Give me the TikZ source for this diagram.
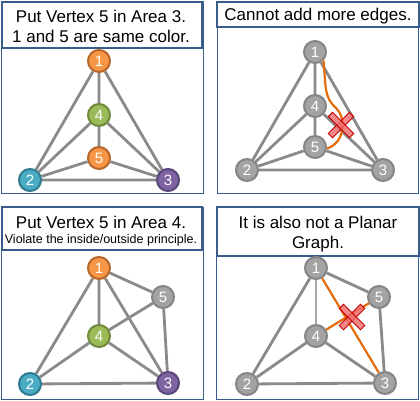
\documentclass[tikz,border=0pt]{standalone}
\usepackage{fontspec}
\setmainfont{Liberation Sans}
\pgfdeclarelayer{edgelayer}
\pgfsetlayers{edgelayer,main}
\definecolor{frameblue}{HTML}{385D8A}
\definecolor{edgegray}{HTML}{8A8A8A}
\definecolor{lightedge}{HTML}{A8A8A8}
\definecolor{orF}{HTML}{F79646}\definecolor{orD}{HTML}{B6662A}
\definecolor{grF}{HTML}{9BBB59}\definecolor{grD}{HTML}{6E8A3A}
\definecolor{tlF}{HTML}{4BACC6}\definecolor{tlD}{HTML}{2E7A8E}
\definecolor{puF}{HTML}{8064A2}\definecolor{puD}{HTML}{594577}
\definecolor{gyF}{HTML}{A3A3A3}\definecolor{gyD}{HTML}{858585}
\definecolor{oline}{HTML}{E46C0A}
\definecolor{xfill}{HTML}{F26B6B}\definecolor{xdraw}{HTML}{C00000}
\tikzset{
  vtx/.style={circle, minimum size=22pt, inner sep=0pt, line width=2pt, text=white,
    font=\fontsize{15}{15}\selectfont},
  vor/.style={vtx, fill=orF, draw=orD},
  vgr/.style={vtx, fill=grF, draw=grD},
  vtl/.style={vtx, fill=tlF, draw=tlD},
  vpu/.style={vtx, fill=puF, draw=puD},
  vgy/.style={vtx, fill=gyF, draw=gyD},
  gedge/.style={line width=2.8pt, draw=edgegray},
  ledge/.style={line width=2.8pt, draw=lightedge},
  oedge/.style={line width=2.2pt, draw=oline},
  thinframe/.style={draw=frameblue, line width=1pt},
  titleframe/.style={draw=frameblue, line width=2pt},
  ttl/.style={anchor=base, inner sep=0pt, font=\fontsize{17}{20}\selectfont},
  sttl/.style={anchor=base, inner sep=0pt, font=\fontsize{12.5}{14}\selectfont},
  xbar/.style={rectangle, minimum width=30pt, minimum height=6pt, inner sep=0pt,
    fill=xfill, fill opacity=0.8, draw=xdraw, draw opacity=1, line width=1pt}
}
\begin{document}
\begin{tikzpicture}[x=1pt,y=-1pt]
\begin{pgfonlayer}{edgelayer}
\fill[white] (0,0) rectangle (420,400);
\end{pgfonlayer}
\useasboundingbox (0,0) rectangle (420,400);

% ---------- frames ----------
\draw[thinframe] (1.5,1.5) rectangle (203,193.5);
\draw[titleframe] (1.5,1.5) rectangle (202,48);
\draw[thinframe] (217,1.5) rectangle (418.5,193.5);
\draw[titleframe] (217,1.5) rectangle (418.5,27);
\draw[thinframe] (1.5,207) rectangle (203,399);
\draw[titleframe] (1.5,207) rectangle (202,250);
\draw[thinframe] (216.5,207) rectangle (418.5,399);
\draw[titleframe] (216.5,207) rectangle (418.5,256);

% ---------- titles ----------
\node[ttl] (t1a) at (101,22) {Put Vertex 5 in Area 3.};
\node[ttl] (t1b) at (101,42) {1 and 5 are same color.};
\node[ttl] (t2a) at (318,20) {Cannot add more edges.};
\node[ttl] (t3a) at (101,228) {Put Vertex 5 in Area 4.};
\node[sttl] (t3b) at (101,243) {Violate the inside/outside principle.};
\node[ttl] (t4a) at (318,228) {It is also not a Planar};
\node[ttl] (t4b) at (318,248) {Graph.};

% ---------- panel 1 ----------
\node[vor] (a1) at (99,61) {1};
\node[vgr] (a4) at (99,115) {4};
\node[vor] (a5) at (99,158) {5};
\node[vtl] (a2) at (30,180) {2};
\node[vpu] (a3) at (168,180) {3};
\begin{pgfonlayer}{edgelayer}
\draw[gedge] (a1)--(a2) (a1)--(a4) (a1)--(a3) (a4)--(a2) (a4)--(a5) (a4)--(a3)
  (a5)--(a2) (a5)--(a3) (a2)--(a3);
\end{pgfonlayer}

% ---------- panel 2 ----------
\node[vgy] (b1) at (315,52) {1};
\node[vgy] (b4) at (315,106) {4};
\node[vgy] (b5) at (315,147) {5};
\node[vgy] (b2) at (247,170) {2};
\node[vgy] (b3) at (383,170) {3};
\begin{pgfonlayer}{edgelayer}
\draw[gedge] (b1)--(b2) (b1)--(b4) (b1)--(b3) (b4)--(b2) (b4)--(b5) (b4)--(b3)
  (b5)--(b2) (b5)--(b3) (b2)--(b3);
\end{pgfonlayer}
\draw[oedge] (b1.-45) .. controls (326,88) and (324,97) .. (336,108)
  .. controls (346,117) and (346,142) .. (b5.-8);
\node[xbar, rotate=45] (bx1) at (341,125) {};
\node[xbar, rotate=-45] (bx2) at (341,125) {};

% ---------- panel 3 ----------
\node[vor] (c1) at (99,268) {1};
\node[vgy] (c5) at (163,297) {5};
\node[vgr] (c4) at (99,336) {4};
\node[vtl] (c2) at (30,384) {2};
\node[vpu] (c3) at (168,383) {3};
\begin{pgfonlayer}{edgelayer}
\draw[gedge] (c1)--(c2) (c1)--(c4) (c1)--(c3) (c1)--(c5) (c5)--(c4) (c5)--(c3)
  (c4)--(c2) (c4)--(c3) (c2)--(c3);
\end{pgfonlayer}

% ---------- panel 4 ----------
\node[vgy] (d1) at (316,268) {1};
\node[vgy] (d5) at (379,297) {5};
\node[vgy] (d4) at (316,336) {4};
\node[vgy] (d2) at (247,384) {2};
\node[vgy] (d3) at (385,383) {3};
\begin{pgfonlayer}{edgelayer}
\draw[gedge] (d1)--(d2) (d1)--(d5) (d5)--(d3) (d4)--(d2) (d4)--(d3) (d2)--(d3);
\draw[ledge] (d1)--(d4);
\end{pgfonlayer}
\draw[oedge] (d1)--(d3);
\draw[oedge] (d4)--(d5);
\node[xbar, rotate=45] (dx1) at (352,317) {};
\node[xbar, rotate=-45] (dx2) at (352,317) {};
\end{tikzpicture}
\end{document}
